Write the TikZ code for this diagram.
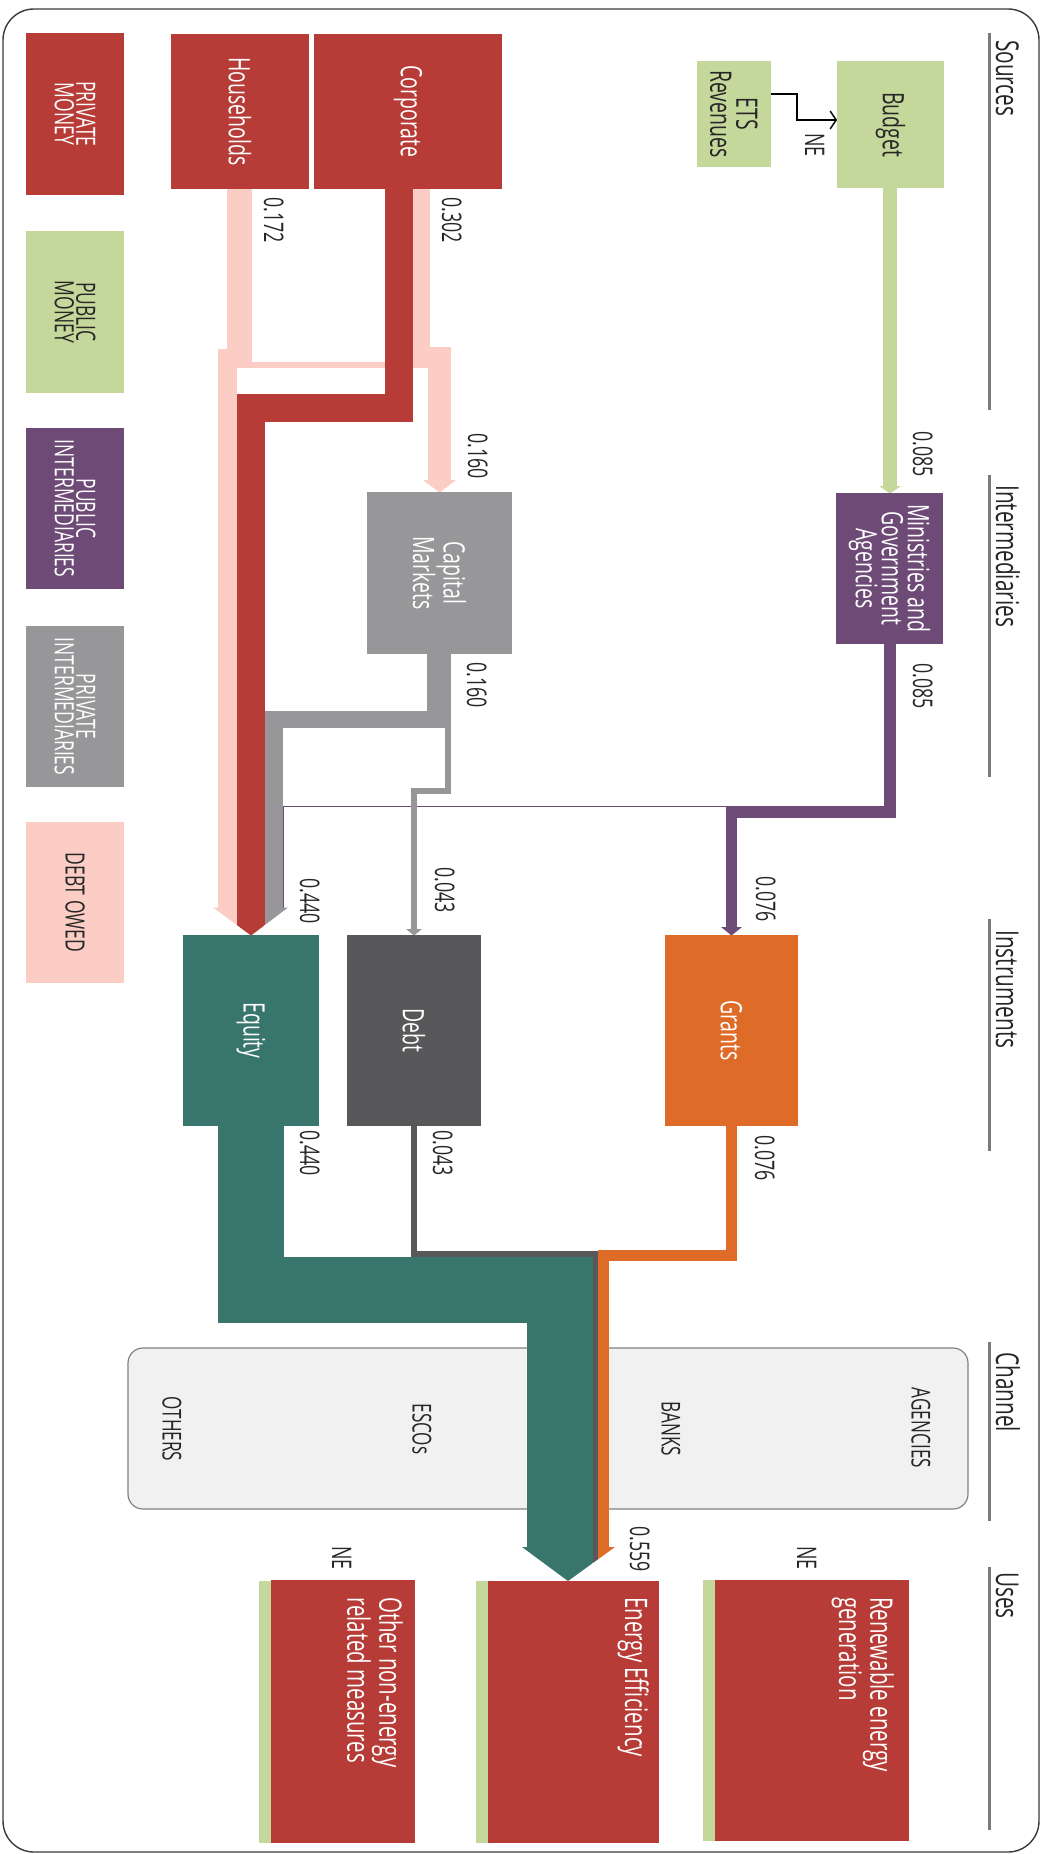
\documentclass[tikz,border=0pt]{standalone}
\usepackage{fontspec}
\setmainfont{Open Sans}[FakeStretch=0.66]
\usetikzlibrary{arrows.meta}

\definecolor{privred}{HTML}{B73C37}
\definecolor{pubgreen}{HTML}{C5D89C}
\definecolor{pubpurple}{HTML}{6E4A76}
\definecolor{privgray}{HTML}{97979A}
\definecolor{debtpink}{HTML}{FBCDC5}
\definecolor{eqteal}{HTML}{38756C}
\definecolor{debtgray}{HTML}{58585A}
\definecolor{grantorange}{HTML}{DF6B29}
\definecolor{inkdark}{HTML}{262626}
\definecolor{rulegray}{HTML}{7B7B7B}
\definecolor{chanfill}{HTML}{F1F1F1}
\definecolor{chanline}{HTML}{808080}
\definecolor{framegray}{HTML}{3A3A3A}

\newcommand{\fsz}[2]{\fontsize{#1}{#2}\selectfont}

\begin{document}
\begin{tikzpicture}[x=1pt, y=-1pt,
  wh/.style 2 args={minimum height=#1, minimum width=#2},
  vbox/.style={rotate=-90, inner sep=0pt, outer sep=0pt, align=center,
               text=white, font={\fsz{29.5}{26}}},
  legbox/.style={vbox, font={\fsz{26.5}{21.5}}},
  usebox/.style={rotate=-90, inner sep=0pt, outer sep=0pt, fill=privred},
  usetext/.style={rotate=-90, anchor=north west, inner sep=0pt, align=left,
                  text=white, font={\fsz{31}{29}}},
  val/.style={rotate=-90, anchor=base west, inner sep=0pt, text=inkdark,
              font={\fsz{27}{27}}},
  stage/.style={val, font={\fsz{31.5}{32}}},
  stagerule/.style={draw=rulegray, line width=3pt},
  chanlabel/.style={rotate=-90, inner sep=0pt, text=inkdark, font={\fsz{26}{26}}},
  outerframe/.style={draw=framegray, line width=1.4pt, rounded corners=31pt},
  leakline/.style={draw=pubpurple, line width=1.4pt},
  etsline/.style={draw=black, line width=1.4pt,
                  -{Straight Barb[length=6pt,width=18pt,line width=1.4pt]}},
]
\useasboundingbox (0,0) rectangle (1041,1854);

% outer frame
\draw[outerframe] (3,9) rectangle (1039,1852);

% channel band
\node[draw=chanline, fill=chanfill, line width=1.2pt, rounded corners=15pt,
      minimum width=840, minimum height=161, inner sep=0pt] (chan) at (548,1428.5) {};

% ---- flows: sources to intermediaries and instruments ----
% budget to ministries
\fill[pubgreen] (883,188) rectangle (897,487);
\fill[pubgreen] (879,486) -- (901,486) -- (890,493.5) -- cycle;

% debt owed (pink)
\fill[debtpink] (227,189) rectangle (252,368);
\fill[debtpink] (247,362) rectangle (433,368);
\fill[debtpink] (218,349) rectangle (237,908);
\fill[debtpink] (413,189) rectangle (430,368);
\fill[debtpink] (428,347) rectangle (451,481);
\fill[debtpink] (423,480) -- (456,480) -- (439.5,492.5) -- cycle;

% corporate private money
\fill[privred] (385,189) rectangle (413,422);
\fill[privred] (237,394) rectangle (413,422);
\fill[privred] (237,394) rectangle (265,908);

% ministries to grants, and the small part to equity
\fill[pubpurple] (884,644) rectangle (896,818);
\fill[pubpurple] (726,806) rectangle (896,818);
\fill[pubpurple] (726,806) rectangle (737,928);
\fill[pubpurple] (721,927) -- (742,927) -- (731.5,935.5) -- cycle;
\draw[leakline] (727,806.7) -- (283.7,806.7) -- (283.7,909);

% capital markets to equity and debt
\fill[privgray] (427,654) rectangle (445,728);
\fill[privgray] (265,711) rectangle (445,728);
\fill[privgray] (265,711) rectangle (283,908);
\fill[privgray] (445,654) rectangle (451,794);
\fill[privgray] (411,788) rectangle (451,794);
\fill[privgray] (411,788) rectangle (417,930);
\fill[privgray] (406,929) -- (422,929) -- (414,935.5) -- cycle;

% combined arrowhead into equity
\begin{scope}
  \clip (213,907.5) -- (288,907.5) -- (251,935.5) -- cycle;
  \fill[debtpink] (205,900) rectangle (237,940);
  \fill[privred] (237,900) rectangle (265,940);
  \fill[privgray] (265,900) rectangle (295,940);
\end{scope}

% ---- flows: instruments to uses ----
\fill[grantorange] (726,1126) rectangle (737,1261);
\fill[grantorange] (598,1250) rectangle (737,1261);
\fill[grantorange] (598,1250) rectangle (609,1548);
\fill[debtgray] (411,1126) rectangle (417,1257);
\fill[debtgray] (411,1251) rectangle (598,1257);
\fill[debtgray] (593,1251) rectangle (598,1548);
\fill[eqteal] (218,1126) rectangle (284,1323);
\fill[eqteal] (218,1257) rectangle (593,1323);
\fill[eqteal] (527,1257) rectangle (593,1548);
\begin{scope}
  \clip (522,1547) -- (615,1547) -- (568,1581) -- cycle;
  \fill[eqteal] (515,1540) rectangle (593,1585);
  \fill[debtgray] (593,1540) rectangle (598,1585);
  \fill[grantorange] (598,1540) rectangle (620,1585);
\end{scope}

% ---- legend ----
\node[legbox, fill=privred, wh={98}{162}] (legpriv) at (75,114) {PRIVATE\\MONEY};
\node[legbox, fill=pubgreen, text=inkdark, wh={98}{162}] (legpub) at (75,312) {PUBLIC\\MONEY};
\node[legbox, fill=pubpurple, wh={98}{161}] (legpubint) at (75,508.5) {PUBLIC\\INTERMEDIARIES};
\node[legbox, fill=privgray, wh={98}{161}] (legprivint) at (75,706.5) {PRIVATE\\INTERMEDIARIES};
\node[legbox, fill=debtpink, text=inkdark, wh={98}{161}] (legdebt) at (75,902.5) {DEBT OWED};

% ---- boxes ----
\node[vbox, fill=privred, wh={138}{155}] (hh) at (240,111.5) {Households};
\node[vbox, fill=privred, wh={188}{155}] (corp) at (408,111.5) {Corporate};
\node[vbox, fill=pubgreen, text=inkdark, wh={74}{106}] (ets) at (734,114) {ETS\\Revenues};
\node[vbox, fill=pubgreen, text=inkdark, wh={107}{127}] (budget) at (890.5,124.5) {Budget};
\node[vbox, fill=privgray, wh={145}{162}] (capm) at (439.5,573) {Capital\\Markets};
\node[vbox, fill=pubpurple, wh={107}{151}] (mins) at (889.5,568.5) {Ministries and\\Government\\Agencies};
\node[vbox, fill=eqteal, wh={136}{191}] (equity) at (251,1030.5) {Equity};
\node[vbox, fill=debtgray, wh={134}{191}] (debt) at (414,1030.5) {Debt};
\node[vbox, fill=grantorange, wh={133}{191}] (grants) at (731.5,1030.5) {Grants};

% ETS revenues into the budget
\draw[etsline] ([yshift=20pt]ets.north) -- ++(26,0) |- ([yshift=4.5pt]budget.south);
\node[val] (ne1) at (805,133) {NE};

% ---- uses ----
\fill[pubgreen] (259,1581) rectangle (271,1843);
\node[usebox, wh={144}{263}] (other) at (343,1711.5) {};
\fill[pubgreen] (476,1581) rectangle (488,1843);
\node[usebox, wh={171}{262}] (ee) at (573.5,1712) {};
\fill[pubgreen] (703,1580) rectangle (715,1841);
\node[usebox, wh={194}{261}] (reg) at (812,1710.5) {};
\node[usetext] (othertxt) at (403,1597) {Other non-energy\\related measures};
\node[usetext] (eetxt) at (649,1597) {Energy Efficiency};
\node[usetext] (regtxt) at (894,1597) {Renewable energy\\generation};
\node[val] (ne2) at (332,1546) {NE};
\node[val] (ne3) at (797,1546) {NE};

% ---- channel labels ----
\node[chanlabel] (agencies) at (921,1428) {AGENCIES};
\node[chanlabel] (banks) at (671,1429) {BANKS};
\node[chanlabel] (escos) at (422,1429) {ESCOs};
\node[chanlabel] (others) at (172,1429) {OTHERS};

% ---- flow values ----
\node[val] (v1) at (264,197) {0.172};
\node[val] (v2) at (442,197) {0.302};
\node[val] (v3) at (468,433) {0.160};
\node[val] (v4) at (913,431) {0.085};
\node[val] (v5) at (467,662) {0.160};
\node[val] (v6) at (913,663) {0.085};
\node[val] (v7) at (300,878) {0.440};
\node[val] (v8) at (435,867) {0.043};
\node[val] (v9) at (756,876) {0.076};
\node[val] (v10) at (300,1130) {0.440};
\node[val] (v11) at (433,1130) {0.043};
\node[val] (v12) at (755,1135) {0.076};
\node[val] (v13) at (630,1526) {0.559};

% ---- stage headings ----
\draw[stagerule] (989,33) -- (989,410);
\draw[stagerule] (989,475) -- (989,777);
\draw[stagerule] (989,919) -- (989,1151);
\draw[stagerule] (989,1342) -- (989,1521);
\draw[stagerule] (989,1567) -- (989,1830);
\node[stage] (sources) at (996,40) {Sources};
\node[stage] (intermediaries) at (996,485) {Intermediaries};
\node[stage] (instruments) at (996,930) {Instruments};
\node[stage] (channel) at (996,1352) {Channel};
\node[stage] (uses) at (996,1572) {Uses};
\end{tikzpicture}
\end{document}
